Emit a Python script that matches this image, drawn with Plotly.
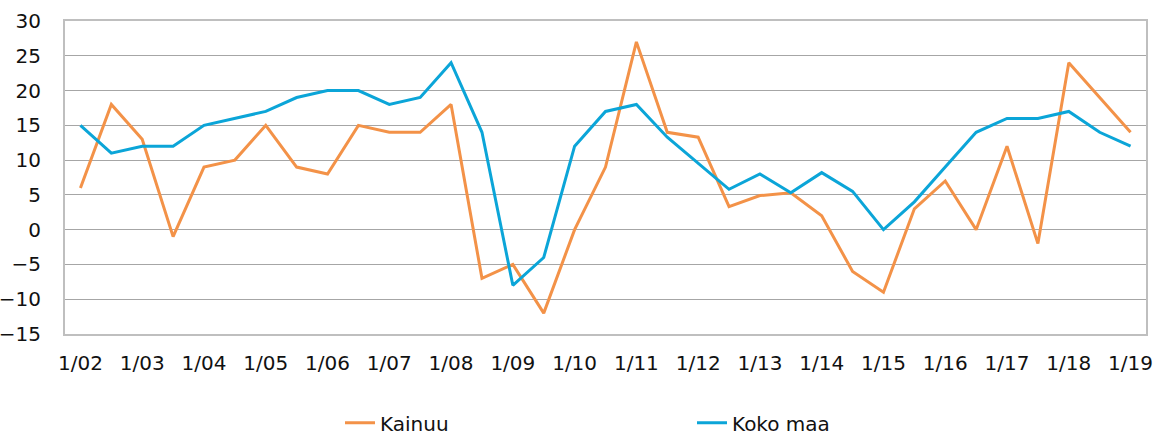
import plotly.graph_objects as go

years = [f"{y:02d}" for y in range(2, 20)]
categories = []
for y in years:
    categories.append(f"1/{y}")
    if y != "19":
        categories.append(f"7/{y}")

tick_vals = [f"1/{y}" for y in years]
tick_text = tick_vals

kainuu = [6, 18, 13, -1, 9, 10, 15, 9, 8, 15, 14, 14, 18, -7, -5, -12, 0, 9, 27,
          14, 13.3, 3.3, 4.9, 5.3, 2, -6, -9, 3, 7, 0, 12, -2, 24, 19, 14]
koko_maa = [15, 11, 12, 12, 15, 16, 17, 19, 20, 20, 18, 19, 24, 14, -8, -4, 12, 17, 18,
            13.3, 9.5, 5.8, 8, 5.3, 8.2, 5.5, 0, 4, 9, 14, 16, 16, 17, 14, 12]

fig = go.Figure()
fig.add_trace(go.Scatter(x=categories, y=kainuu, mode="lines", name="Kainuu",
                         line=dict(color="#F39248", width=3)))
fig.add_trace(go.Scatter(x=categories, y=koko_maa, mode="lines", name="Koko maa",
                         line=dict(color="#0BA5D8", width=3)))

fig.update_layout(
    width=1170, height=435,
    margin=dict(l=65, r=24, t=21, b=101),
    paper_bgcolor="white", plot_bgcolor="white",
    font=dict(family="DejaVu Sans", size=20, color="#111111"),
    showlegend=True,
    legend=dict(orientation="h", x=0.2544, xanchor="left",
                yref="container", y=0.028, yanchor="middle",
                entrywidth=307, entrywidthmode="pixels", font=dict(size=20),
                itemwidth=30),
)
fig.update_xaxes(type="category", categoryorder="array", categoryarray=categories,
                 range=[-0.5, len(categories) - 0.5],
                 tickmode="array", tickvals=tick_vals, ticktext=tick_text,
                 showgrid=False, showline=True, mirror=True, linecolor="#BFBFBF", linewidth=2,
                 ticks="outside", ticklen=10, tickcolor="rgba(0,0,0,0)", zeroline=False,
                 automargin=False)
fig.update_yaxes(range=[-15, 30], tickmode="linear", tick0=-15, dtick=5,
                 showgrid=True, gridcolor="#A6A6A6", gridwidth=1.3,
                 showline=True, mirror=True, linecolor="#BFBFBF", linewidth=2,
                 ticks="outside", ticklen=18, tickcolor="rgba(0,0,0,0)",
                 zeroline=False, automargin=False)

fig.write_html("out.html", config={"displayModeBar": False},
               post_script="document.body.style.margin='0';document.body.style.overflow='hidden';")
